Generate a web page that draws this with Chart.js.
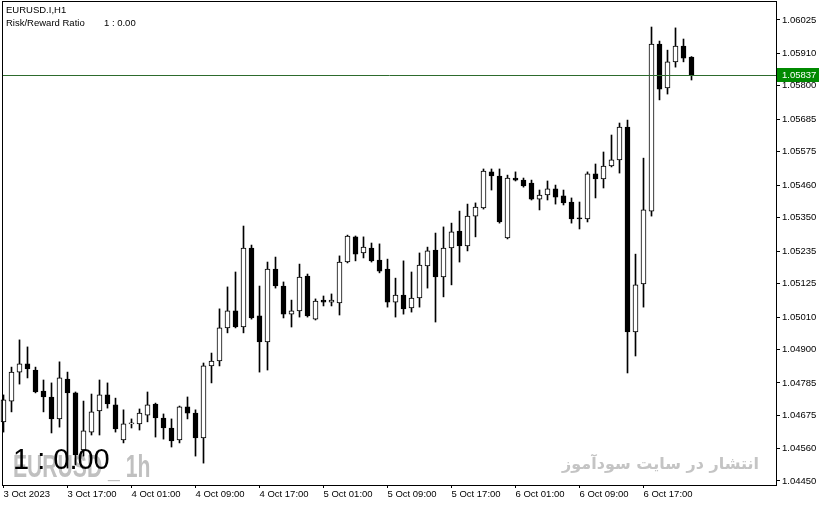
<!DOCTYPE html>
<html>
<head>
<meta charset="utf-8">
<script src="https://cdn.jsdelivr.net/npm/chart.js@4.4.0/dist/chart.umd.min.js"></script>
<style>
html, body { margin: 0; padding: 0; background: #fff; }
#wrap { width: 821px; height: 506px; }
</style>
</head>
<body>
<div id="wrap"><canvas id="candleChart" width="821" height="506"></canvas></div>
<script>
// EURUSD.I H1 bars, left to right
const opens = [1.04652, 1.04723, 1.04822, 1.04850, 1.04829, 1.04757, 1.04737, 1.04662, 1.04798, 1.04751,
  1.04556, 1.04617, 1.04689, 1.04744, 1.04710, 1.04590, 1.04645, 1.04645, 1.04675, 1.04713,
  1.04665, 1.04631, 1.04590, 1.04703, 1.04682, 1.04597, 1.04843, 1.04860, 1.04973, 1.05031,
  1.04976, 1.05246, 1.05014, 1.04925, 1.05174, 1.05116, 1.05020, 1.05031, 1.05150, 1.05003,
  1.05068, 1.05061, 1.05058, 1.05198, 1.05284, 1.05229, 1.05246, 1.05205, 1.05174, 1.05061,
  1.05085, 1.05041, 1.05075, 1.05185, 1.05239, 1.05147, 1.05246, 1.05304, 1.05253, 1.05355,
  1.05383, 1.05506, 1.05492, 1.05280, 1.05485, 1.05478, 1.05468, 1.05413, 1.05427, 1.05448,
  1.05424, 1.05403, 1.05349, 1.05345, 1.05499, 1.05482, 1.05526, 1.05547, 1.05659, 1.04959,
  1.05123, 1.05372, 1.05943, 1.05793, 1.05882, 1.05936, 1.05898];
const highs = [1.04744, 1.04839, 1.04932, 1.04908, 1.04839, 1.04795, 1.04785, 1.04857, 1.04822, 1.04754,
  1.04723, 1.04747, 1.04795, 1.04785, 1.04733, 1.04693, 1.04662, 1.04696, 1.04754, 1.04716,
  1.04679, 1.04662, 1.04706, 1.04737, 1.04693, 1.04853, 1.04887, 1.05038, 1.05113, 1.05164,
  1.05321, 1.05256, 1.05116, 1.05198, 1.05215, 1.05130, 1.05068, 1.05191, 1.05157, 1.05072,
  1.05082, 1.05089, 1.05219, 1.05290, 1.05287, 1.05284, 1.05263, 1.05260, 1.05208, 1.05143,
  1.05202, 1.05164, 1.05229, 1.05249, 1.05297, 1.05318, 1.05331, 1.05372, 1.05396, 1.05400,
  1.05516, 1.05516, 1.05516, 1.05495, 1.05506, 1.05485, 1.05478, 1.05444, 1.05475, 1.05461,
  1.05444, 1.05417, 1.05403, 1.05506, 1.05533, 1.05574, 1.05632, 1.05673, 1.05683, 1.05225,
  1.05553, 1.06001, 1.05953, 1.05922, 1.05998, 1.05960, 1.05900];
const lows = [1.04617, 1.04686, 1.04781, 1.04802, 1.04751, 1.04686, 1.04614, 1.04634, 1.04494, 1.04505,
  1.04535, 1.04607, 1.04607, 1.04699, 1.04617, 1.04580, 1.04631, 1.04624, 1.04652, 1.04600,
  1.04593, 1.04566, 1.04580, 1.04662, 1.04535, 1.04511, 1.04785, 1.04843, 1.04956, 1.04973,
  1.04956, 1.05003, 1.04822, 1.04829, 1.05109, 1.05007, 1.04976, 1.05010, 1.05010, 1.05000,
  1.05048, 1.05048, 1.05017, 1.05195, 1.05202, 1.05212, 1.05198, 1.05161, 1.05044, 1.05010,
  1.05020, 1.05027, 1.05044, 1.05109, 1.04993, 1.05079, 1.05120, 1.05198, 1.05236, 1.05284,
  1.05379, 1.05444, 1.05331, 1.05277, 1.05475, 1.05454, 1.05410, 1.05376, 1.05410, 1.05396,
  1.05393, 1.05331, 1.05311, 1.05335, 1.05417, 1.05451, 1.05523, 1.05502, 1.04819, 1.04877,
  1.05044, 1.05355, 1.05752, 1.05772, 1.05864, 1.05882, 1.05820];
const closes = [1.04727, 1.04822, 1.04850, 1.04833, 1.04754, 1.04737, 1.04662, 1.04802, 1.04751, 1.04539,
  1.04621, 1.04686, 1.04744, 1.04713, 1.04628, 1.04645, 1.04648, 1.04682, 1.04710, 1.04665,
  1.04631, 1.04587, 1.04703, 1.04682, 1.04597, 1.04843, 1.04860, 1.04973, 1.05031, 1.04976,
  1.05246, 1.05007, 1.04925, 1.05174, 1.05116, 1.05020, 1.05031, 1.05147, 1.05014, 1.05065,
  1.05061, 1.05068, 1.05198, 1.05287, 1.05225, 1.05249, 1.05202, 1.05167, 1.05061, 1.05085,
  1.05038, 1.05075, 1.05188, 1.05236, 1.05147, 1.05246, 1.05301, 1.05253, 1.05355, 1.05386,
  1.05509, 1.05492, 1.05335, 1.05485, 1.05478, 1.05458, 1.05413, 1.05427, 1.05448, 1.05420,
  1.05400, 1.05345, 1.05345, 1.05499, 1.05482, 1.05526, 1.05547, 1.05659, 1.04959, 1.05120,
  1.05376, 1.05943, 1.05789, 1.05882, 1.05936, 1.05895, 1.05837];

const timeLabels = ["3 Oct 2023", "3 Oct 17:00", "4 Oct 01:00", "4 Oct 09:00", "4 Oct 17:00", "5 Oct 01:00",
  "5 Oct 09:00", "5 Oct 17:00", "6 Oct 01:00", "6 Oct 09:00", "6 Oct 17:00"];
const timeLabelBars = [0, 8, 16, 24, 32, 40, 48, 56, 64, 72, 80];
const priceTicks = [1.06025, 1.05910, 1.05800, 1.05685, 1.05575, 1.05460, 1.05350, 1.05235,
  1.05125, 1.05010, 1.04900, 1.04785, 1.04675, 1.04560, 1.04450];
const lastPrice = 1.05837;

const axisFont = { family: "'Liberation Sans', Arial, sans-serif", size: 9.5 };

const mtOverlay = {
  id: 'mtOverlay',
  beforeDatasetsDraw(chart) {
    const ctx = chart.ctx;
    ctx.save();
    // gray watermark bottom left
    ctx.fillStyle = '#c0c0c0';
    ctx.font = "bold 32px 'Liberation Sans', Arial, sans-serif";
    ctx.textBaseline = 'alphabetic';
    ctx.translate(13, 477);
    ctx.scale(0.66, 1);
    ctx.fillText('EURUSD _ 1h', 0, 0);
    ctx.restore();

    ctx.save();
    ctx.fillStyle = '#c4c4c4';
    ctx.font = "bold 16px 'DejaVu Sans', sans-serif";
    ctx.textAlign = 'right';
    ctx.textBaseline = 'alphabetic';
    ctx.fillText('انتشار در سایت سودآموز', 759, 469);
    ctx.restore();
  },
  afterDatasetsDraw(chart) {
    const ctx = chart.ctx;
    const ca = chart.chartArea;
    const y = Math.round(chart.scales.y.getPixelForValue(lastPrice)) + 0.5;
    ctx.save();
    ctx.strokeStyle = '#2d6b2d';
    ctx.lineWidth = 1;
    ctx.beginPath();
    ctx.moveTo(ca.left, y);
    ctx.lineTo(ca.right, y);
    ctx.stroke();

    ctx.fillStyle = '#000';
    ctx.font = "29px 'Liberation Sans', Arial, sans-serif";
    ctx.fillText('1 : 0.00', 13, 469);
    ctx.restore();
  },
  afterDraw(chart) {
    const ctx = chart.ctx;
    const ca = chart.chartArea;
    ctx.save();
    ctx.strokeStyle = '#000';
    ctx.lineWidth = 1;
    ctx.strokeRect(ca.left - 0.5, ca.top - 0.5, ca.right - ca.left + 1, ca.bottom - ca.top + 1);

    // last price tag
    const y = Math.round(chart.scales.y.getPixelForValue(lastPrice));
    ctx.fillStyle = '#008a00';
    ctx.fillRect(ca.right + 1, y - 7, 42, 14);
    ctx.fillStyle = '#fff';
    ctx.font = "9.5px 'Liberation Sans', Arial, sans-serif";
    ctx.textBaseline = 'middle';
    ctx.fillText(lastPrice.toFixed(5), ca.right + 6, y + 0.5);

    ctx.fillStyle = '#000';
    ctx.fillText('EURUSD.I,H1', 6, 10);
    ctx.fillText('Risk/Reward Ratio', 6, 23);
    ctx.fillText('1 : 0.00', 104, 23);
    ctx.restore();
  }
};

const bodyData = opens.map((o, i) => ({ x: i, y: [o, closes[i]] }));
const wickData = lows.map((l, i) => ({ x: i, y: [l, highs[i]] }));
const bodyColors = opens.map((o, i) => closes[i] >= o ? '#ffffff' : '#000000');

new Chart(document.getElementById('candleChart'), {
  type: 'bar',
  data: {
    datasets: [
      {
        label: 'body',
        data: bodyData,
        backgroundColor: bodyColors,
        borderColor: '#000',
        borderWidth: 1,
        borderSkipped: false,
        barThickness: 5,
        minBarLength: 1,
        grouped: false,
        clip: false,
        order: 0
      },
      {
        label: 'wick',
        data: wickData,
        backgroundColor: '#000',
        borderWidth: 0,
        barThickness: 1,
        grouped: false,
        clip: false,
        order: 1
      }
    ]
  },
  options: {
    responsive: false,
    animation: false,
    devicePixelRatio: 1,
    layout: { padding: { left: 3, top: 2, right: 0, bottom: 0 } },
    plugins: { legend: { display: false }, tooltip: { enabled: false } },
    scales: {
      x: {
        type: 'linear',
        position: 'bottom',
        offset: false,
        min: -0.0625,
        max: 96.5625,
        grid: { offset: false, drawOnChartArea: false, drawTicks: true, tickLength: 3, color: '#000' },
        border: { display: false },
        ticks: {
          autoSkip: false,
          maxRotation: 0,
          align: 'start',
          padding: 1,
          color: '#000',
          font: axisFont,
          callback: v => timeLabels[timeLabelBars.indexOf(v)] || ''
        },
        afterBuildTicks: s => { s.ticks = timeLabelBars.map(v => ({ value: v })); },
        afterFit: s => { s.height = 21; s.paddingLeft = 0; s.paddingRight = 0; }
      },
      y: {
        type: 'linear',
        position: 'right',
        min: 1.044362,
        max: 1.060865,
        grid: { drawOnChartArea: false, drawTicks: true, tickLength: 4, color: '#000' },
        border: { display: false },
        ticks: {
          padding: 2,
          color: '#000',
          font: axisFont,
          callback: v => v.toFixed(5)
        },
        afterBuildTicks: s => { s.ticks = priceTicks.map(v => ({ value: v })); },
        afterFit: s => { s.width = 45; s.paddingTop = 0; s.paddingBottom = 0; }
      }
    }
  },
  plugins: [mtOverlay]
});
</script>
</body>
</html>
